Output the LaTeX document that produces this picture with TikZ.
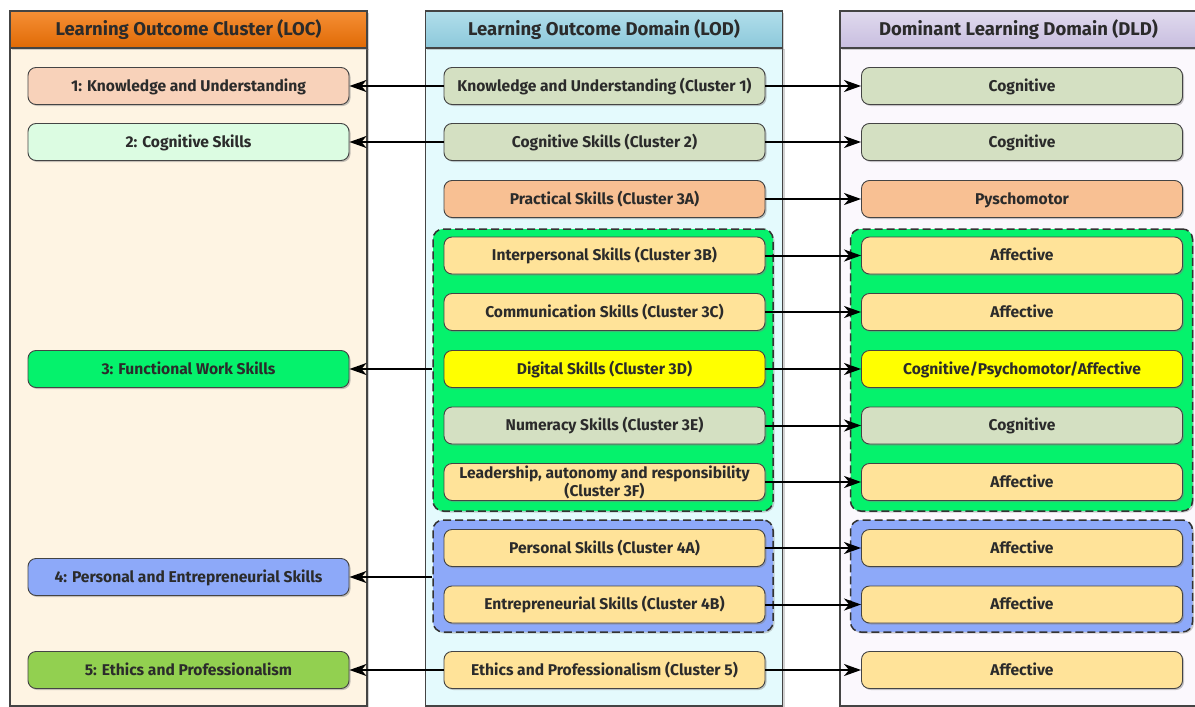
\documentclass[tikz,border=0pt]{standalone}
\usepackage{fontspec}
\setmainfont{Fira Sans}[BoldFont={Fira Sans Bold}]
\usetikzlibrary{arrows.meta,shadows}
\definecolor{txt}{HTML}{2B2B2B}
\definecolor{bordc}{HTML}{444444}
\definecolor{hLOC}{HTML}{F47B12}
\definecolor{hLOCd}{HTML}{E06A05}
\definecolor{hLOD}{HTML}{9ED6E6}
\definecolor{hLODd}{HTML}{8CC8DA}
\definecolor{hDLD}{HTML}{D8D0EA}
\definecolor{hDLDd}{HTML}{C8BEDF}
\definecolor{bLOC}{HTML}{FEF4E3}
\definecolor{bLOD}{HTML}{E4FAFD}
\definecolor{bDLD}{HTML}{FBF8FD}
\definecolor{cPeach}{HTML}{F8D2BA}
\definecolor{cMint}{HTML}{DCFCE2}
\definecolor{cBright}{HTML}{05F26C}
\definecolor{cPeri}{HTML}{8DA9F9}
\definecolor{cGreen}{HTML}{92D050}
\definecolor{cSage}{HTML}{D4E0C2}
\definecolor{cOrange}{HTML}{F8C093}
\definecolor{cGold}{HTML}{FFE399}
\definecolor{cYellow}{HTML}{FFFF00}
\tikzset{
  panelhead/.style={draw=bordc, line width=1.6pt, minimum width=357, minimum height=37, inner sep=0pt, text height=12.8pt, text depth=0pt, font=\fontsize{18.5}{21}\selectfont\bfseries, text=txt, drop shadow={shadow xshift=1.5pt, shadow yshift=-1.5pt, opacity=0.35}},
  panelbody/.style={draw=bordc, line width=1.6pt, minimum width=357, inner sep=0pt, drop shadow={shadow xshift=2pt, shadow yshift=-1pt, opacity=0.35}},
  box/.style={draw=bordc, line width=0.9pt, rounded corners=8pt, minimum width=321, minimum height=37, inner sep=0pt, align=center, text height=10.8pt, text depth=0pt, font=\fontsize{15.6}{18.5}\selectfont\bfseries, text=txt, drop shadow={shadow xshift=1.5pt, shadow yshift=-1.5pt, opacity=0.45}},
  twoline/.style={text height=29.3pt, text depth=0pt},
  grp/.style={draw=black!80, dashed, dash pattern=on 8pt off 4pt, line width=1.5pt, rounded corners=10pt, inner sep=0pt, drop shadow={shadow xshift=1.5pt, shadow yshift=-1.5pt, opacity=0.35}},
  arr/.style={-{Stealth[length=17pt,width=12pt,inset=5pt]}, line width=2pt, black},
}
\begin{document}
\begin{tikzpicture}[x=1pt,y=-1pt]
\useasboundingbox[fill=white] (0,0) rectangle (1195,707);
% panels
\node[panelbody, fill=bLOC, minimum height=658] (pLOC) at (188.5,377) {};
\node[panelbody, fill=bLOD, minimum height=658] (pLOD) at (604,377) {};
\node[panelbody, fill=bDLD, minimum height=658] (pDLD) at (1018.5,377) {};
\node[panelhead, top color=hLOC!85!white, bottom color=hLOCd] (hLOCn) at (188.5,29.5) {Learning Outcome Cluster (LOC)};
\node[panelhead, top color=hLOD!80!white, bottom color=hLODd] (hLODn) at (604,29.5) {Learning Outcome Domain (LOD)};
\node[panelhead, top color=hDLD!80!white, bottom color=hDLDd] (hDLDn) at (1018.5,29.5) {Dominant Learning Domain (DLD)};
% groups
\node[grp, fill=cBright, minimum width=340, minimum height=282] (gGL) at (603,370) {};
\node[grp, fill=cPeri, minimum width=340, minimum height=112] (gBL) at (603,576) {};
\node[grp, fill=cBright, minimum width=342, minimum height=282] (gGR) at (1021.5,370) {};
\node[grp, fill=cPeri, minimum width=342, minimum height=112] (gBR) at (1021.5,576) {};
% LOC
\node[box, fill=cPeach] (c1) at (188.5,86) {1: Knowledge and Understanding};
\node[box, fill=cMint] (c2) at (188.5,142) {2: Cognitive Skills};
\node[box, fill=cBright] (c3) at (188.5,369) {3: Functional Work Skills};
\node[box, fill=cPeri] (c4) at (188.5,577) {4: Personal and Entrepreneurial Skills};
\node[box, fill=cGreen] (c5) at (188.5,670) {5: Ethics and Professionalism};
% LOD
\node[box, fill=cSage] (d1) at (604.5,86) {Knowledge and Understanding (Cluster 1)};
\node[box, fill=cSage] (d2) at (604.5,142) {Cognitive Skills (Cluster 2)};
\node[box, fill=cOrange] (d3a) at (604.5,199) {Practical Skills (Cluster 3A)};
\node[box, fill=cGold] (d3b) at (604.5,255.5) {Interpersonal Skills (Cluster 3B)};
\node[box, fill=cGold] (d3c) at (604.5,312) {Communication Skills (Cluster 3C)};
\node[box, fill=cYellow] (d3d) at (604.5,369) {Digital Skills (Cluster 3D)};
\node[box, fill=cSage] (d3e) at (604.5,425.5) {Numeracy Skills (Cluster 3E)};
\node[box, twoline, fill=cGold] (d3f) at (604.5,482) {Leadership, autonomy and responsibility\\(Cluster 3F)};
\node[box, fill=cGold] (d4a) at (604.5,548) {Personal Skills (Cluster 4A)};
\node[box, fill=cGold] (d4b) at (604.5,604.5) {Entrepreneurial Skills (Cluster 4B)};
\node[box, fill=cGold] (d5) at (604.5,670) {Ethics and Professionalism (Cluster 5)};
% DLD
\node[box, fill=cSage] (r1) at (1022,86) {Cognitive};
\node[box, fill=cSage] (r2) at (1022,142) {Cognitive};
\node[box, fill=cOrange] (r3a) at (1022,199) {Pyschomotor};
\node[box, fill=cGold] (r3b) at (1022,255.5) {Affective};
\node[box, fill=cGold] (r3c) at (1022,312) {Affective};
\node[box, fill=cYellow] (r3d) at (1022,369) {Cognitive/Psychomotor/Affective};
\node[box, fill=cSage] (r3e) at (1022,425.5) {Cognitive};
\node[box, fill=cGold] (r3f) at (1022,482) {Affective};
\node[box, fill=cGold] (r4a) at (1022,548) {Affective};
\node[box, fill=cGold] (r4b) at (1022,604.5) {Affective};
\node[box, fill=cGold] (r5) at (1022,670) {Affective};
% arrows to LOC
\draw[arr] (d1.west) -- (c1.east);
\draw[arr] (d2.west) -- (c2.east);
\draw[arr] (gGL.west |- c3.east) -- (c3.east);
\draw[arr] (gBL.west |- c4.east) -- (c4.east);
\draw[arr] (d5.west) -- (c5.east);
% arrows to DLD
\foreach \a/\b in {d1/r1,d2/r2,d3a/r3a,d3b/r3b,d3c/r3c,d3d/r3d,d3e/r3e,d3f/r3f,d4a/r4a,d4b/r4b,d5/r5}
  \draw[arr] (\a.east) -- (\b.west);
\end{tikzpicture}
\end{document}
